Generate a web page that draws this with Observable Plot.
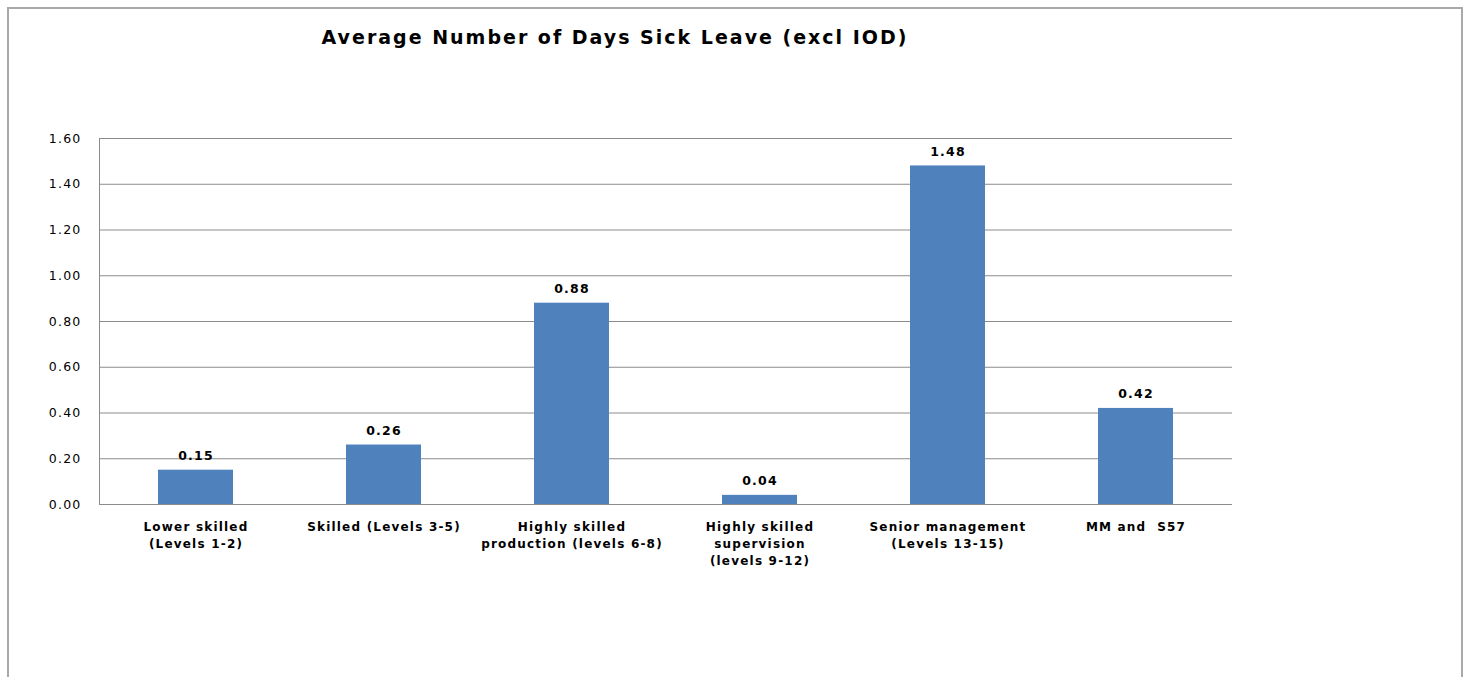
<!DOCTYPE html>
<html>
<head>
<meta charset="utf-8">
<script src="https://cdn.jsdelivr.net/npm/d3@7"></script>
<script src="https://cdn.jsdelivr.net/npm/@observablehq/plot@0.6"></script>
<style>
  html, body { margin: 0; padding: 0; background: #fff; }
  #wrap { position: relative; width: 1473px; height: 677px; overflow: hidden; font-family: "DejaVu Sans", Verdana, sans-serif; }
  #border { position: absolute; left: 7px; top: 7px; width: 1456px; height: 720px; border: 2px solid #a9a9a9; box-sizing: border-box; }
  #title { position: absolute; left: 0; width: 1230px; top: 26px; text-align: center; font-weight: bold; font-size: 19px; letter-spacing: 2px; color: #000; }
  #chart { position: absolute; left: 0; top: 0; }
</style>
</head>
<body>
<div id="wrap">
  <div id="border"></div>
  <div id="title">Average Number of Days Sick Leave (excl IOD)</div>
  <div id="chart"></div>
</div>
<script>
const categories = [
  "Lower skilled\n(Levels 1-2)",
  "Skilled (Levels 3-5)",
  "Highly skilled\nproduction (levels 6-8)",
  "Highly skilled\nsupervision\n(levels 9-12)",
  "Senior management\n(Levels 13-15)",
  "MM and  S57"
];
const values = [0.15, 0.26, 0.88, 0.04, 1.48, 0.42];
const yTicks = [0, 0.2, 0.4, 0.6, 0.8, 1.0, 1.2, 1.4, 1.6];

const data = categories.map((c, i) => ({category: c, value: values[i]}));

const chart = Plot.plot({
  width: 1473,
  height: 677,
  marginLeft: 99,
  marginRight: 241,
  marginTop: 138,
  marginBottom: 173,
  style: {fontFamily: "'DejaVu Sans', Verdana, sans-serif", color: "#000", background: "transparent", letterSpacing: "1.2px"},
  x: {domain: categories, paddingInner: 0.6, paddingOuter: 0.3, label: null},
  y: {domain: [0, 1.6], label: null},
  marks: [
    Plot.ruleY(yTicks, {stroke: "#8c8c8c", strokeWidth: 1, strokeOpacity: 1}),
    Plot.frame({anchor: "left", stroke: "#8c8c8c", strokeOpacity: 1}),
    Plot.barY(data, {x: "category", y: "value", fill: "#4f81bd"}),
    Plot.text(data, {x: "category", y: "value", text: d => d.value.toFixed(2), dy: -10, lineAnchor: "bottom", fontWeight: "bold", fontSize: 12.5, fill: "#000"}),
    Plot.axisY({ticks: yTicks, tickFormat: d => d.toFixed(2), tickSize: 0, tickPadding: 18, fontSize: 12.5, label: null}),
    Plot.axisX({tickSize: 0, tickPadding: 15, lineAnchor: "top", fontSize: 12, fontWeight: "bold", lineHeight: 1.4, label: null})
  ]
});
document.getElementById("chart").appendChild(chart);
</script>
</body>
</html>
